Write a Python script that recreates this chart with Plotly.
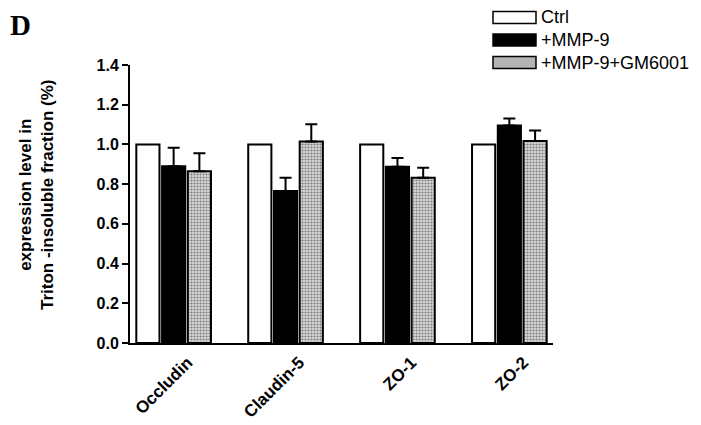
import plotly.graph_objects as go

categories = ["Occludin", "Claudin-5", "ZO-1", "ZO-2"]
series_names = ["Ctrl", "+MMP-9", "+MMP-9+GM6001"]
ctrl_values = [1.0, 1.0, 1.0, 1.0]
mmp9_values = [0.89, 0.765, 0.888, 1.095]
mmp9_err = [0.093, 0.067, 0.044, 0.035]
gm_values = [0.865, 1.015, 0.832, 1.017]
gm_err = [0.090, 0.086, 0.051, 0.053]
y_ticks = [0.0, 0.2, 0.4, 0.6, 0.8, 1.0, 1.2, 1.4]

# The page body has an 8px margin; lay out in window coordinates and compensate.
OFF = 8
W, H = 701 - OFF, 425 - OFF
PLOT_L, PLOT_R, PLOT_T, PLOT_B = 130, 553, 65, 343   # window pixels
ML, MT = PLOT_L - OFF, PLOT_T - OFF
PW, PH = PLOT_R - PLOT_L, PLOT_B - PLOT_T
MR, MB = W - ML - PW, H - MT - PH


def px_x(x):
    return (x - PLOT_L) / PW


def px_y(y):
    return (PLOT_B - y) / PH


FONT = "Liberation Sans, Arial, sans-serif"

fig = go.Figure()
fig.add_trace(go.Bar(
    x=categories, y=ctrl_values, name=series_names[0],
    marker=dict(color="white", line=dict(color="black", width=2)),
    showlegend=False,
))
fig.add_trace(go.Bar(
    x=categories, y=mmp9_values, name=series_names[1],
    marker=dict(color="black", line=dict(color="black", width=2)),
    error_y=dict(type="data", array=mmp9_err, arrayminus=[0] * len(mmp9_err),
                 symmetric=False, color="black", thickness=2, width=6),
    showlegend=False,
))
fig.add_trace(go.Bar(
    x=categories, y=gm_values, name=series_names[2],
    marker=dict(color="white", line=dict(color="black", width=2),
                pattern=dict(shape=".", fgcolor="#222222", bgcolor="#d8d8d8",
                             size=3, solidity=0.4)),
    error_y=dict(type="data", array=gm_err, arrayminus=[0] * len(gm_err),
                 symmetric=False, color="black", thickness=2, width=6),
    showlegend=False,
))

# Manual legend (wide swatches as in the reference)
legend_rows = [17.5, 40, 62.5]
legend_fill = ["white", "black", "#b4b4b4"]
shapes = []
annotations = []
for name, yc, fill in zip(series_names, legend_rows, legend_fill):
    shapes.append(dict(type="rect", xref="paper", yref="paper",
                       x0=px_x(493), x1=px_x(536),
                       y0=px_y(yc + 6), y1=px_y(yc - 6),
                       fillcolor=fill, line=dict(color="black", width=1.5)))
    annotations.append(dict(text=name, xref="paper", yref="paper",
                            x=px_x(539), y=px_y(yc), xanchor="left", yanchor="middle",
                            showarrow=False,
                            font=dict(family=FONT, size=18, color="black")))

annotations.append(dict(text="<b>expression level in<br>Triton -insoluble fraction (%)</b>",
                        xref="paper", yref="paper", x=px_x(36), y=px_y(195),
                        xanchor="center", yanchor="middle", textangle=-90,
                        showarrow=False,
                        font=dict(family=FONT, size=17, color="black")))
annotations.append(dict(text="<b>D</b>", xref="paper", yref="paper",
                        x=px_x(OFF), y=px_y(OFF - 1), xanchor="left", yanchor="top",
                        showarrow=False,
                        font=dict(family="Liberation Serif, Times New Roman, serif",
                                  size=29, color="black")))

fig.update_layout(
    width=W, height=H,
    margin=dict(l=ML, r=MR, t=MT, b=MB),
    paper_bgcolor="white", plot_bgcolor="white",
    barmode="group", bargap=0.31, bargroupgap=0.1,
    shapes=shapes, annotations=annotations,
    xaxis=dict(range=[-0.39, 3.39], showline=True, linewidth=2, linecolor="black",
               ticks="", showgrid=False, zeroline=False, tickangle=-45,
               automargin=False,
               ticklabelshift=14, ticklabelstandoff=1,
               tickfont=dict(family=FONT, size=17, color="black", weight="bold")),
    yaxis=dict(range=[0, 1.4], tickvals=y_ticks, tickformat=".1f",
               showline=True, linewidth=2, linecolor="black",
               ticks="outside", ticklen=6, tickwidth=2, tickcolor="black",
               showgrid=False, zeroline=False, automargin=False,
               tickfont=dict(family=FONT, size=16, color="black", weight="bold")),
)

fig.write_html("out.html")
